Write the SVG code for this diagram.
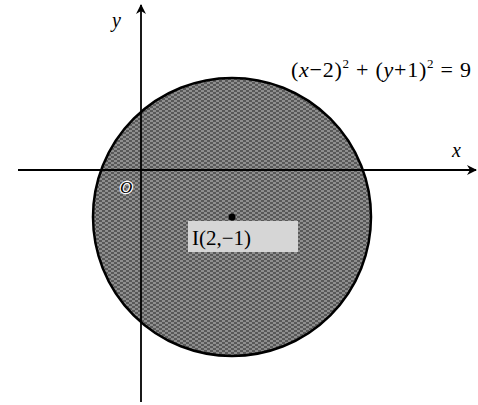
<svg xmlns="http://www.w3.org/2000/svg" width="478" height="405" viewBox="0 0 478 405">
<defs>
<style>
.it{font-family:"Liberation Serif",serif;font-style:italic;fill:#000}
.rm{font-family:"Liberation Serif",serif;fill:#000}
.ax{stroke:#000;stroke-width:1.8;fill:none}
.halo{stroke:#fff;stroke-width:2.5;paint-order:stroke}
</style>
<marker id="arr" viewBox="0 0 10 10" refX="9" refY="5" markerWidth="10" markerHeight="10" markerUnits="userSpaceOnUse" orient="auto">
<path d="M0,0 L10,5 L0,10 L3,5 Z" fill="#000"/>
</marker>
<pattern id="tex" width="6" height="4" patternUnits="userSpaceOnUse">
<rect width="6" height="4" fill="#585858"/>
<path d="M0,1 H3 M3,3 H6" stroke="#c4c4c4" stroke-width="1"/>
</pattern>
</defs>
<rect width="478" height="405" fill="#fff"/>
<g id="disk">
<circle cx="232" cy="217" r="139" fill="url(#tex)" stroke="#000" stroke-width="2.5"/>
</g>
<g id="connectors">
<line class="ax" x1="18" y1="170" x2="476" y2="170" marker-end="url(#arr)"/>
<line class="ax" x1="141" y1="402" x2="141" y2="5" marker-end="url(#arr)"/>
</g>
<g id="labels">
<text class="it" x="112" y="27" font-size="20">y</text>
<text class="it" x="452" y="157" font-size="20">x</text>
<text class="it halo" x="120" y="193" font-size="17">O</text>
<text class="rm" x="291" y="77" font-size="22" textLength="180" lengthAdjust="spacing"><tspan>(</tspan><tspan font-style="italic">x</tspan><tspan>−2)</tspan><tspan dy="-9" font-size="13">2</tspan><tspan dy="9"> + (</tspan><tspan font-style="italic">y</tspan><tspan>+1)</tspan><tspan dy="-9" font-size="13">2</tspan><tspan dy="9"> = 9</tspan></text>
</g>
<g id="center">
<rect x="188" y="221" width="110" height="31" fill="#d6d6d6"/>
<circle cx="232" cy="217" r="3.5" fill="#000"/>
<text class="rm" x="192" y="245" font-size="21">I(2,−1)</text>
</g>
</svg>
